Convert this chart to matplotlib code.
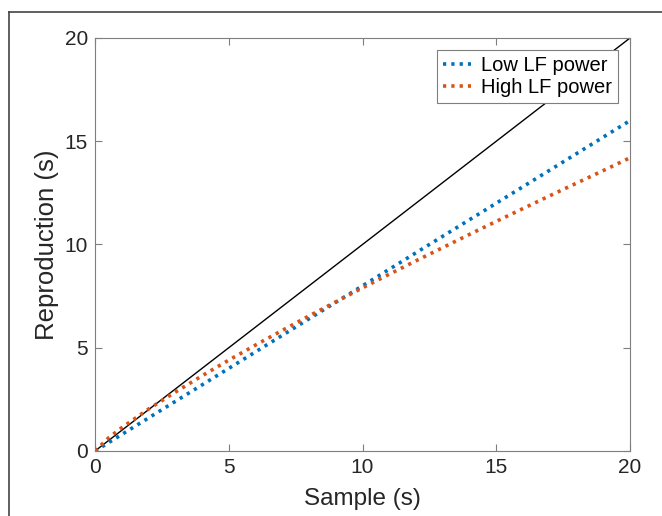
import matplotlib
matplotlib.use('Agg')
import matplotlib.pyplot as plt
from matplotlib.lines import Line2D

plt.rcParams['font.family'] = ['Liberation Sans', 'DejaVu Sans']

# %% DATA
sample = [0, 0.5, 1, 2, 3, 4, 5, 6, 7, 8, 9, 10, 11, 12, 13, 14, 15, 16, 17, 18, 19, 20]
low_lf = [0, 0.4, 0.8, 1.6, 2.4, 3.2, 4.0, 4.8, 5.6, 6.4, 7.2, 8.0, 8.8, 9.6, 10.4,
          11.2, 12.0, 12.8, 13.6, 14.4, 15.2, 16.0]
high_lf = [0, 0.63, 1.13, 2.03, 2.85, 3.64, 4.40, 5.13, 5.84, 6.54, 7.22, 7.90, 8.56,
           9.21, 9.85, 10.49, 11.12, 11.74, 12.36, 12.97, 13.58, 14.20]
identity = [0, 20]
ticks = [0, 5, 10, 15, 20]

BLUE = '#0072BD'
ORANGE = '#D95319'
AXC = '#7f7f7f'
TXT = '#262626'

# %% PLOT
fig = plt.figure(figsize=(6.62, 5.16), dpi=100)
ax = fig.add_axes([95/662, 65/516, 535/662, 413/516])

ax.plot(identity, identity, color='k', lw=1.0)
ax.plot(sample, low_lf, color=BLUE, lw=2.6, ls=(0, (0.9, 1.4)), label='Low LF power')
ax.plot(sample, high_lf, color=ORANGE, lw=2.6, ls=(0, (0.9, 1.4)), label='High LF power')

ax.set_xlim(0, 20)
ax.set_ylim(0, 20)
ax.set_xticks(ticks)
ax.set_yticks(ticks)
ax.tick_params(direction='in', top=True, right=True, length=5, width=0.8,
               colors=AXC, labelcolor=TXT, labelsize=15, pad=5)
for s in ax.spines.values():
    s.set_color(AXC)
    s.set_linewidth(0.8)

ax.set_xlabel('Sample (s)', fontsize=17.5, color=TXT, labelpad=8)
ax.set_ylabel('Reproduction (s)', fontsize=18.5, color=TXT, labelpad=4)

leg = ax.legend(loc='upper right', fontsize=14.5, handlelength=1.4, handletextpad=0.5,
                borderaxespad=0.6, borderpad=0.3, labelspacing=0.15, fancybox=False,
                framealpha=1, edgecolor=AXC)
leg.get_frame().set_linewidth(0.8)

# outer frame (cropped figure border: left and top edges only)
W, H = 662, 516
fig.add_artist(Line2D([9/W, 9/W], [0, 1 - 12/H], color='#444444', lw=1.2,
                      transform=fig.transFigure))
fig.add_artist(Line2D([9/W, 1], [1 - 12/H, 1 - 12/H], color='#444444', lw=1.2,
                      transform=fig.transFigure))

fig.savefig('out.png', dpi=100)
